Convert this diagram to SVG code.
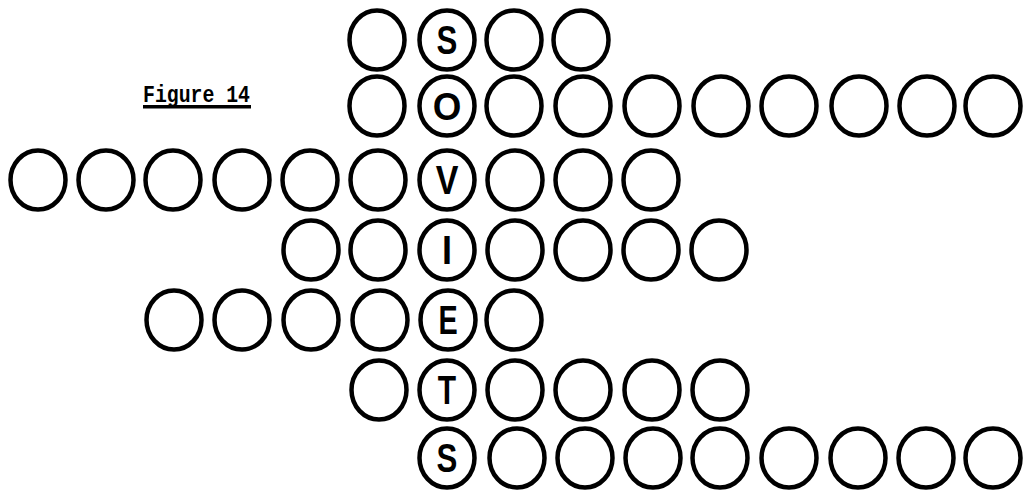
<svg xmlns="http://www.w3.org/2000/svg" width="1026" height="490" viewBox="0 0 1026 490">
<style>
.c{fill:none;stroke:#000;stroke-width:4.5}
.l{font-family:"Liberation Sans",Arial,sans-serif;font-weight:bold;font-size:40px;text-anchor:middle;fill:#000}
.f{font-family:"Liberation Mono","Courier New",monospace;font-weight:bold;font-size:20px;fill:#000}
</style>
<rect width="1026" height="490" fill="#fff"/>
<g id="label">
<text class="f" x="143" y="102" transform="translate(0,-17) scale(1,1.17)" textLength="107" lengthAdjust="spacingAndGlyphs">Figure 14</text>
<rect x="143" y="105" width="108" height="3.5" fill="#000"/>
</g>
<g id="row1">
<ellipse class="c" cx="377" cy="40" rx="27.5" ry="29.5"/>
<g id="S1"><ellipse class="c" cx="447" cy="40" rx="27.5" ry="29.5"/><text class="l" transform="translate(447,54) scale(0.78,1)">S</text></g>
<ellipse class="c" cx="514" cy="40" rx="27.5" ry="29.5"/>
<ellipse class="c" cx="581" cy="40" rx="27.5" ry="29.5"/>
</g>
<g id="row2">
<ellipse class="c" cx="377" cy="106" rx="27.5" ry="29.5"/>
<g id="O"><ellipse class="c" cx="447" cy="106" rx="27.5" ry="29.5"/><text class="l" transform="translate(447,120) scale(0.92,0.95)">O</text></g>
<ellipse class="c" cx="514" cy="106" rx="27.5" ry="29.5"/>
<ellipse class="c" cx="583" cy="106" rx="27.5" ry="29.5"/>
<ellipse class="c" cx="652" cy="106" rx="27.5" ry="29.5"/>
<ellipse class="c" cx="721" cy="106" rx="27.5" ry="29.5"/>
<ellipse class="c" cx="789" cy="106" rx="27.5" ry="29.5"/>
<ellipse class="c" cx="859" cy="106" rx="27.5" ry="29.5"/>
<ellipse class="c" cx="927" cy="106" rx="27.5" ry="29.5"/>
<ellipse class="c" cx="993" cy="106" rx="27.5" ry="29.5"/>
</g>
<g id="row3">
<ellipse class="c" cx="38" cy="180" rx="27.5" ry="29.5"/>
<ellipse class="c" cx="106" cy="180" rx="27.5" ry="29.5"/>
<ellipse class="c" cx="173" cy="180" rx="27.5" ry="29.5"/>
<ellipse class="c" cx="242" cy="180" rx="27.5" ry="29.5"/>
<ellipse class="c" cx="310" cy="180" rx="27.5" ry="29.5"/>
<ellipse class="c" cx="378" cy="180" rx="27.5" ry="29.5"/>
<g id="V"><ellipse class="c" cx="447" cy="180" rx="27.5" ry="29.5"/><text class="l" transform="translate(447,194) scale(0.85,1)">V</text></g>
<ellipse class="c" cx="515" cy="180" rx="27.5" ry="29.5"/>
<ellipse class="c" cx="583" cy="180" rx="27.5" ry="29.5"/>
<ellipse class="c" cx="651" cy="180" rx="27.5" ry="29.5"/>
</g>
<g id="row4">
<ellipse class="c" cx="311" cy="250" rx="27.5" ry="29.5"/>
<ellipse class="c" cx="378" cy="250" rx="27.5" ry="29.5"/>
<g id="I"><ellipse class="c" cx="447" cy="250" rx="27.5" ry="29.5"/><text class="l" transform="translate(447,264) scale(0.9,1)">I</text></g>
<ellipse class="c" cx="515" cy="250" rx="27.5" ry="29.5"/>
<ellipse class="c" cx="583" cy="250" rx="27.5" ry="29.5"/>
<ellipse class="c" cx="651" cy="250" rx="27.5" ry="29.5"/>
<ellipse class="c" cx="719" cy="250" rx="27.5" ry="29.5"/>
</g>
<g id="row5">
<ellipse class="c" cx="174" cy="320" rx="27.5" ry="29.5"/>
<ellipse class="c" cx="242" cy="320" rx="27.5" ry="29.5"/>
<ellipse class="c" cx="311" cy="320" rx="27.5" ry="29.5"/>
<ellipse class="c" cx="380" cy="320" rx="27.5" ry="29.5"/>
<g id="E"><ellipse class="c" cx="448" cy="320" rx="27.5" ry="29.5"/><text class="l" transform="translate(448,334) scale(0.72,1)">E</text></g>
<ellipse class="c" cx="514" cy="320" rx="27.5" ry="29.5"/>
</g>
<g id="row6">
<ellipse class="c" cx="379" cy="390" rx="27.5" ry="29.5"/>
<g id="T"><ellipse class="c" cx="447" cy="390" rx="27.5" ry="29.5"/><text class="l" transform="translate(447,404) scale(0.75,1)">T</text></g>
<ellipse class="c" cx="515" cy="390" rx="27.5" ry="29.5"/>
<ellipse class="c" cx="583" cy="390" rx="27.5" ry="29.5"/>
<ellipse class="c" cx="652" cy="390" rx="27.5" ry="29.5"/>
<ellipse class="c" cx="720" cy="390" rx="27.5" ry="29.5"/>
</g>
<g id="row7">
<g id="S2"><ellipse class="c" cx="447" cy="458" rx="27.5" ry="29.5"/><text class="l" transform="translate(447,472) scale(0.78,1)">S</text></g>
<ellipse class="c" cx="517" cy="458" rx="27.5" ry="29.5"/>
<ellipse class="c" cx="585" cy="458" rx="27.5" ry="29.5"/>
<ellipse class="c" cx="653" cy="458" rx="27.5" ry="29.5"/>
<ellipse class="c" cx="720" cy="458" rx="27.5" ry="29.5"/>
<ellipse class="c" cx="789" cy="458" rx="27.5" ry="29.5"/>
<ellipse class="c" cx="858" cy="458" rx="27.5" ry="29.5"/>
<ellipse class="c" cx="926" cy="458" rx="27.5" ry="29.5"/>
<ellipse class="c" cx="993" cy="458" rx="27.5" ry="29.5"/>
</g>
</svg>
